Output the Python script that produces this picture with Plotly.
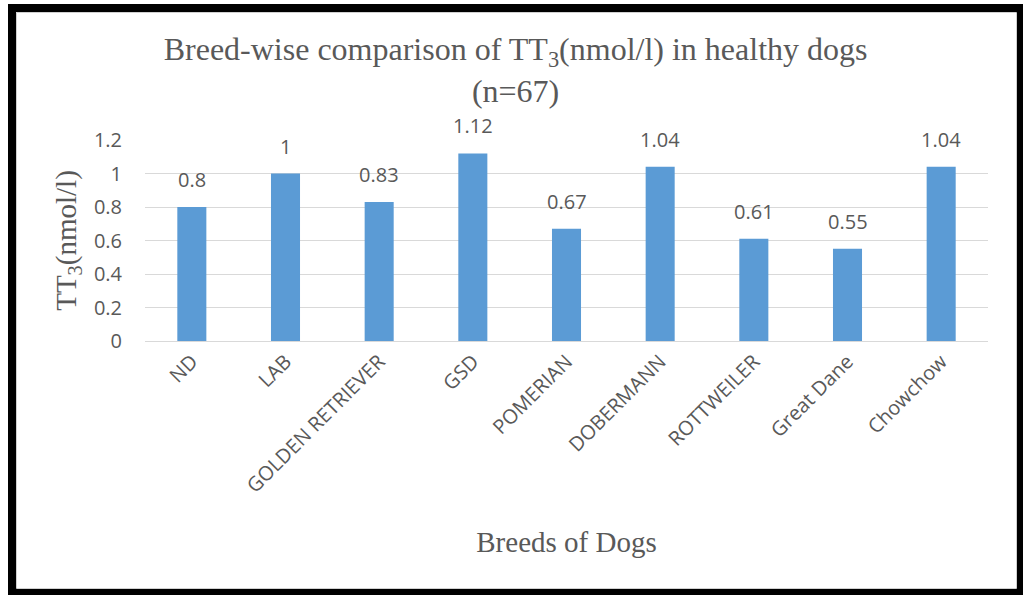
import plotly.graph_objects as go

# Breed-wise mean total T3 (nmol/l), healthy dogs, n=67
breeds = ["ND", "LAB", "GOLDEN RETRIEVER", "GSD", "POMERIAN",
          "DOBERMANN", "ROTTWEILER", "Great Dane", "Chowchow"]
tt3_values = [0.8, 1.0, 0.83, 1.12, 0.67, 1.04, 0.61, 0.55, 1.04]
y_ticks = [0, 0.2, 0.4, 0.6, 0.8, 1.0, 1.2]
y_tick_labels = ["0", "0.2", "0.4", "0.6", "0.8", "1", "1.2"]

W, H = 1023, 595
ML, MR, MT, MB = 145, 35, 140, 254
PW, PH = W - ML - MR, H - MT - MB

TEXT = "#595959"
SANS = "Open Sans, Calibri, Carlito, sans-serif"
SERIF = "Liberation Serif, Times New Roman, serif"

fig = go.Figure(go.Bar(
    x=breeds, y=tt3_values,
    marker=dict(color="#5B9BD5", line=dict(width=0)),
    cliponaxis=False,
))

# value labels above each bar
annotations = [
    dict(x=b, y=v, xref="x", yref="y", text=f"{v:g}", showarrow=False,
         yanchor="bottom", yshift=12,
         font=dict(family=SANS, size=20, color=TEXT))
    for b, v in zip(breeds, tt3_values)
]


def px_x(v):
    return (v - ML) / PW


def px_y(v):
    return (H - MB - v) / PH


shapes = [
    # outer black frame
    dict(type="rect", xref="paper", yref="paper",
         x0=px_x(12), x1=px_x(1020), y0=px_y(592), y1=px_y(8),
         line=dict(color="black", width=8), fillcolor="rgba(0,0,0,0)", layer="above"),
    # thin light edge just inside the frame
    dict(type="rect", xref="paper", yref="paper",
         x0=px_x(16.5), x1=px_x(1016.5), y0=px_y(588.5), y1=px_y(12.5),
         line=dict(color="#d0d0d0", width=1), fillcolor="rgba(0,0,0,0)", layer="above"),
]

fig.update_layout(
    width=W, height=H,
    margin=dict(l=ML, r=MR, t=MT, b=MB, autoexpand=False),
    paper_bgcolor="white", plot_bgcolor="white",
    bargap=0.69,
    showlegend=False,
    title=dict(
        text="Breed-wise comparison of TT<sub>3</sub>(nmol/l) in healthy dogs<br>(n=67)",
        x=0.504, xanchor="center", xref="container",
        y=1 - 60 / H, yanchor="top", yref="container",
        font=dict(family=SERIF, size=32, color=TEXT),
    ),
    xaxis=dict(
        tickangle=-45,
        tickfont=dict(family=SANS, size=20, color=TEXT),
        showline=True, linecolor="#d9d9d9", linewidth=1,
        ticks="", showgrid=False,
        title=dict(text="Breeds of Dogs", standoff=34,
                   font=dict(family=SERIF, size=29, color=TEXT)),
    ),
    yaxis=dict(
        range=[0, 1.2],
        tickvals=y_ticks, ticktext=y_tick_labels,
        tickfont=dict(family=SANS, size=20, color=TEXT),
        showgrid=True, gridcolor="#d9d9d9", gridwidth=1,
        zeroline=False, showline=False, ticks="",
        ticklabelstandoff=22,
        title=dict(text="TT<sub>3</sub>(nmol/l)", standoff=8,
                   font=dict(family=SERIF, size=29, color=TEXT)),
    ),
    annotations=annotations,
    shapes=shapes,
)

fig.write_html("out.html")
